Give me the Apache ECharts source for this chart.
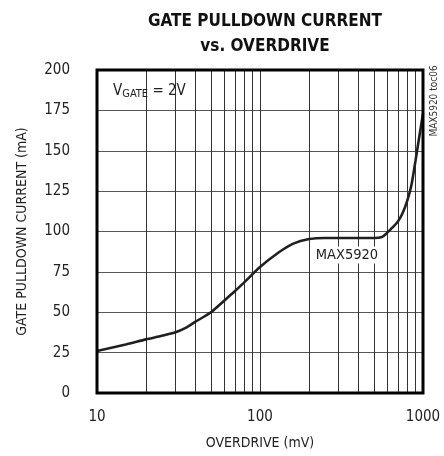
<!DOCTYPE html>
<html>
<head>
<meta charset="utf-8">
<script src="https://cdn.jsdelivr.net/npm/echarts@6/dist/echarts.min.js"></script>
<style>
  html, body { margin: 0; padding: 0; background: #fff; }
  #main { width: 444px; height: 456px; }
</style>
</head>
<body>
<div id="main"></div>
<script>
var FONT = '"Liberation Sans Narrow", "DejaVu Sans Condensed", "Arial Narrow", sans-serif';

// curve
var overdrive = [10, 15, 20, 25, 30, 35, 40, 50, 60, 70, 80, 100, 130, 160, 200, 250, 300, 400, 500, 560, 600, 650, 700, 750, 800, 850, 900, 950, 1000];
var current = [26, 30, 33.2, 35.4, 37.4, 40.3, 44, 50, 57, 63, 68.5, 78, 87, 92.5, 95.3, 96, 96, 96, 96, 96.6, 99, 102.5, 106, 111.5, 119, 129, 144, 159, 173];

// log grid lines (vertical)
var xGridLines = [20, 30, 40, 50, 60, 70, 80, 90, 100, 200, 300, 400, 500, 600, 700, 800, 900];

var myChart = echarts.init(document.getElementById('main'));

var option = {
    animation: false,
    title: {
        text: 'GATE PULLDOWN CURRENT\nvs. OVERDRIVE',
        left: 260,
        top: 4,
        textAlign: 'center',
        textStyle: {
            fontFamily: FONT,
            fontSize: 17,
            fontWeight: 'bold',
            color: '#111',
            lineHeight: 25
        }
    },
    grid: {
        left: 97,
        right: 21,
        top: 70,
        bottom: 63,
        show: true,
        borderColor: '#000',
        borderWidth: 3,
        z: 10
    },
    xAxis: {
        type: 'log',
        logBase: 10,
        min: 10,
        max: 1000,
        name: 'OVERDRIVE (mV)',
        nameLocation: 'middle',
        nameGap: 43,
        nameTextStyle: { fontFamily: FONT, fontSize: 14, color: '#222' },
        axisLine: { show: false },
        axisTick: { show: false },
        splitLine: { show: false },
        axisLabel: {
            fontFamily: FONT, fontSize: 15, color: '#222', margin: 17,
            formatter: function (v) { return String(v); }
        }
    },
    yAxis: {
        type: 'value',
        min: 0,
        max: 200,
        interval: 25,
        name: 'GATE PULLDOWN CURRENT (mA)',
        nameLocation: 'middle',
        nameGap: 68,
        nameTextStyle: { fontFamily: FONT, fontSize: 14, color: '#222' },
        axisLine: { show: false },
        axisTick: { show: false },
        splitLine: { show: true, lineStyle: { color: '#555', width: 1 } },
        axisLabel: { fontFamily: FONT, fontSize: 15, color: '#222', margin: 27 }
    },
    series: [{
        type: 'line',
        data: overdrive.map(function (x, i) { return [x, current[i]]; }),
        showSymbol: false,
        smooth: 0.25,
        lineStyle: { color: '#231f20', width: 2.6 },
        z: 5,
        markLine: {
            silent: true,
            symbol: 'none',
            label: { show: false },
            lineStyle: { color: '#333', width: 1, type: 'solid' },
            data: xGridLines.map(function (v) { return { xAxis: v }; })
        }
    }],
    graphic: [
        {
            type: 'text',
            left: 113,
            top: 84,
            z: 100,
            style: {
                text: '{v|V}{s|GATE}{v| = 2V}',
                rich: {
                    v: { fontFamily: FONT, fontSize: 15, fill: '#222' },
                    s: { fontFamily: FONT, fontSize: 11, fill: '#222', padding: [6, 0, 0, 0] }
                }
            }
        },
        {
            type: 'text',
            x: 347,
            y: 255,
            z: 100,
            style: {
                text: 'MAX5920',
                fontFamily: FONT,
                fontSize: 14.5,
                fill: '#222',
                align: 'center',
                verticalAlign: 'middle',
                backgroundColor: '#fff',
                padding: [1, 1]
            }
        },
        {
            type: 'text',
            x: 434,
            y: 101,
            rotation: Math.PI / 2,
            z: 100,
            style: {
                text: 'MAX5920 toc06',
                fontFamily: FONT,
                fontSize: 10,
                fill: '#333',
                align: 'center',
                verticalAlign: 'middle'
            }
        }
    ]
};

myChart.setOption(option);
</script>
</body>
</html>
